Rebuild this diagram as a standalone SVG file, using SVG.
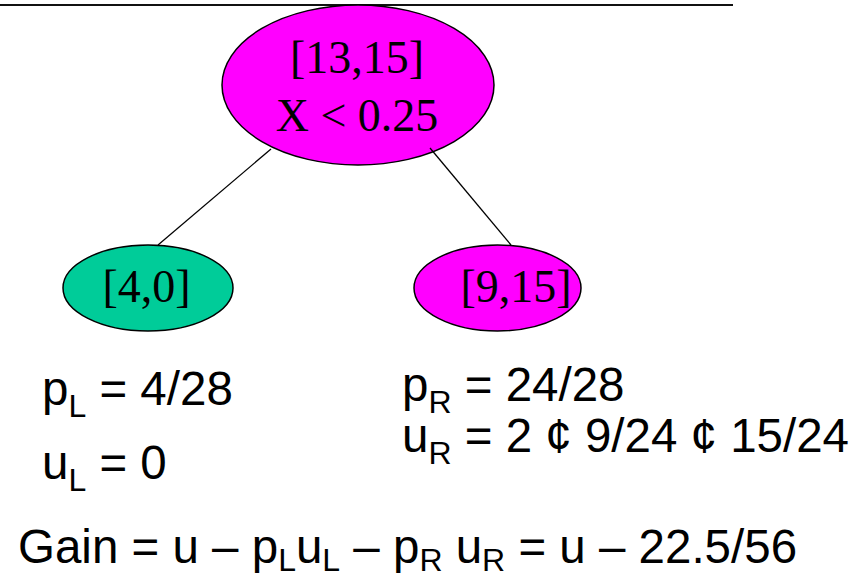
<svg xmlns="http://www.w3.org/2000/svg" width="857" height="580" viewBox="0 0 857 580">
<style>
.node{stroke:#000;stroke-width:1.5}
.magenta{fill:#FF00FF}
.green{fill:#00CC99}
.lbl{font-family:"Liberation Serif","Times New Roman",serif;font-size:46px;fill:#000;text-anchor:middle}
.eq{font-family:"Liberation Sans",Arial,sans-serif;font-size:47.5px;fill:#000}
.sub{font-size:32px}
.edge{stroke:#000;stroke-width:1.3;fill:none}
</style>
<rect x="0" y="0" width="857" height="580" fill="#fff"/>
<line x1="0" y1="5" x2="733" y2="5" stroke="#111" stroke-width="2"/>
<g id="root">
<ellipse class="node magenta" cx="358" cy="85" rx="136" ry="80"/>
<text class="lbl" x="357" y="73">[13,15]</text>
<text class="lbl" x="357" y="131">X &lt; 0.25</text>
</g>
<g id="left">
<ellipse class="node green" cx="148" cy="288" rx="85" ry="43"/>
<text class="lbl" x="146.5" y="302">[4,0]</text>
</g>
<g id="right">
<ellipse class="node magenta" cx="497.5" cy="288" rx="83.5" ry="43"/>
<text class="lbl" x="516" y="302">[9,15]</text>
</g>
<g id="connectors">
<line class="edge" x1="271" y1="149" x2="158" y2="245"/>
<line class="edge" x1="430" y1="148" x2="511" y2="245"/>
</g>
<g id="formulas">
<text class="eq" x="42" y="405">p<tspan class="sub" dy="12">L</tspan><tspan dy="-12"> = 4/28</tspan></text>
<text class="eq" x="42" y="479">u<tspan class="sub" dy="12">L</tspan><tspan dy="-12"> = 0</tspan></text>
<text class="eq" x="402" y="401">p<tspan class="sub" dy="12">R</tspan><tspan dy="-12"> = 24/28</tspan></text>
<text class="eq" x="402" y="452">u<tspan class="sub" dy="12">R</tspan><tspan dy="-12"> = 2 ¢ 9/24 ¢ 15/24</tspan></text>
<text class="eq" x="18" y="563">Gain = u – p<tspan class="sub" dy="8">L</tspan><tspan dy="-8">u</tspan><tspan class="sub" dy="8">L</tspan><tspan dy="-8"> – p</tspan><tspan class="sub" dy="8">R</tspan><tspan dy="-8"> u</tspan><tspan class="sub" dy="8">R</tspan><tspan dy="-8"> = u – 22.5/56</tspan></text>
</g>
</svg>
